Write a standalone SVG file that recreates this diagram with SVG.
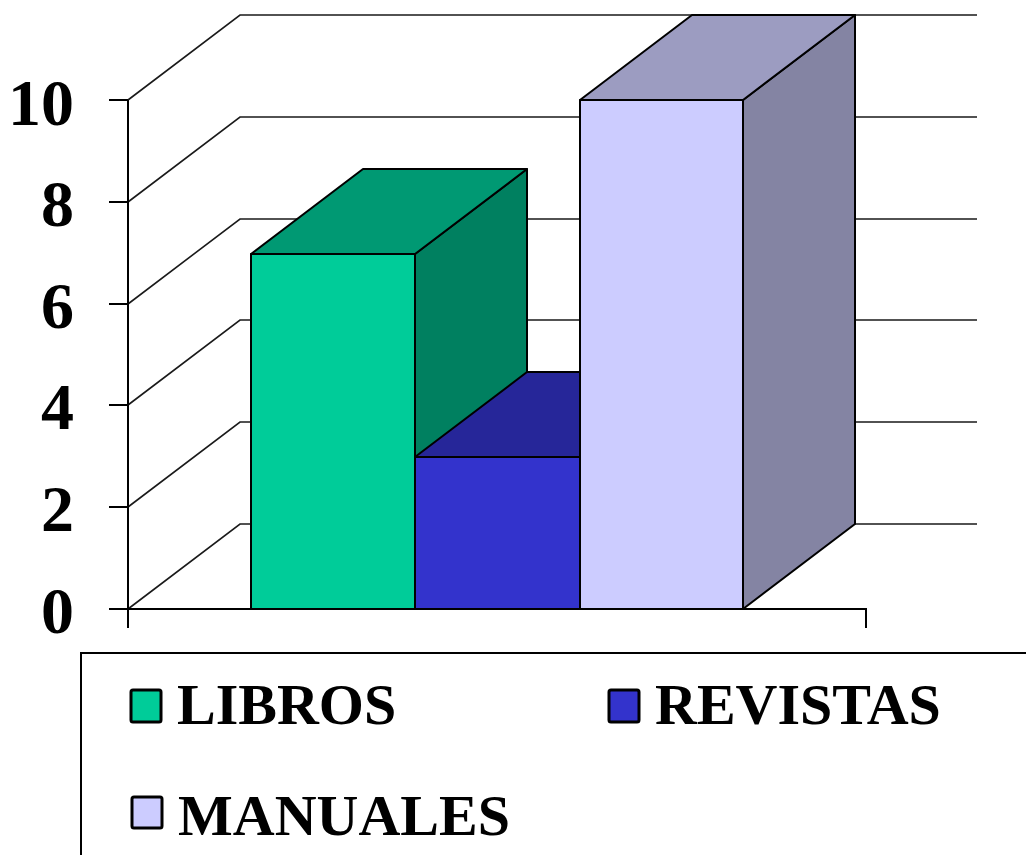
<svg xmlns="http://www.w3.org/2000/svg" width="1026" height="855" viewBox="0 0 1026 855">
<style>
.grid{stroke:#1a1a1a;stroke-width:1.6;fill:none}
.axis{stroke:#000;stroke-width:2;fill:none}
.bar{stroke:#000;stroke-width:2;stroke-linejoin:round}
.lbl{font-family:"Liberation Serif","Times New Roman",serif;font-weight:bold;fill:#000}
.ytick{font-size:66px;text-anchor:end}
.leg{font-size:58px}
.sw{stroke:#000;stroke-width:3}
</style>
<rect width="1026" height="855" fill="#fff"/>
<g id="walls">
<path class="grid" d="M128,609 L240,524 L977,524 M128,507 L240,422 L977,422 M128,405 L240,320 L977,320 M128,304 L240,219 L977,219 M128,202 L240,117 L977,117 M128,100 L240,15 L977,15"/>
</g>
<g id="axis">
<path class="axis" d="M128,100 L128,628 M109,100 L128,100 M109,202 L128,202 M109,304 L128,304 M109,405 L128,405 M109,507 L128,507 M109,609 L866,609 L866,628"/>
<text class="lbl ytick" x="74" y="125">10</text>
<text class="lbl ytick" x="74" y="226">8</text>
<text class="lbl ytick" x="74" y="328">6</text>
<text class="lbl ytick" x="74" y="429">4</text>
<text class="lbl ytick" x="74" y="531">2</text>
<text class="lbl ytick" x="74" y="633">0</text>
</g>
<g id="libros">
<polygon class="bar" fill="#008060" points="415,254 527,169 527,524 415,609"/>
<polygon class="bar" fill="#009973" points="251,254 363,169 527,169 415,254"/>
<rect class="bar" fill="#00CC99" x="251" y="254" width="164" height="355"/>
</g>
<g id="revistas">
<polygon class="bar" fill="#262699" points="415,457 527,372 692,372 580,457"/>
<rect class="bar" fill="#3333CC" x="415" y="457" width="165" height="152"/>
</g>
<g id="manuales">
<polygon class="bar" fill="#8484A3" points="743,100 855,15 855,524 743,609"/>
<polygon class="bar" fill="#9C9CC1" points="580,100 692,15 855,15 743,100"/>
<rect class="bar" fill="#CCCCFF" x="580" y="100" width="163" height="509"/>
</g>
<g id="legend">
<rect x="81" y="653" width="1000" height="300" fill="none" stroke="#000" stroke-width="2"/>
<rect class="sw" fill="#00CC99" x="131" y="690" width="30" height="32" rx="2"/>
<text class="lbl leg" x="177" y="724">LIBROS</text>
<rect class="sw" fill="#3333CC" x="609" y="690" width="30" height="32" rx="2"/>
<text class="lbl leg" x="655" y="724">REVISTAS</text>
<rect class="sw" fill="#CCCCFF" x="132" y="797" width="30" height="31" rx="2"/>
<text class="lbl leg" x="178" y="835">MANUALES</text>
</g>
</svg>
